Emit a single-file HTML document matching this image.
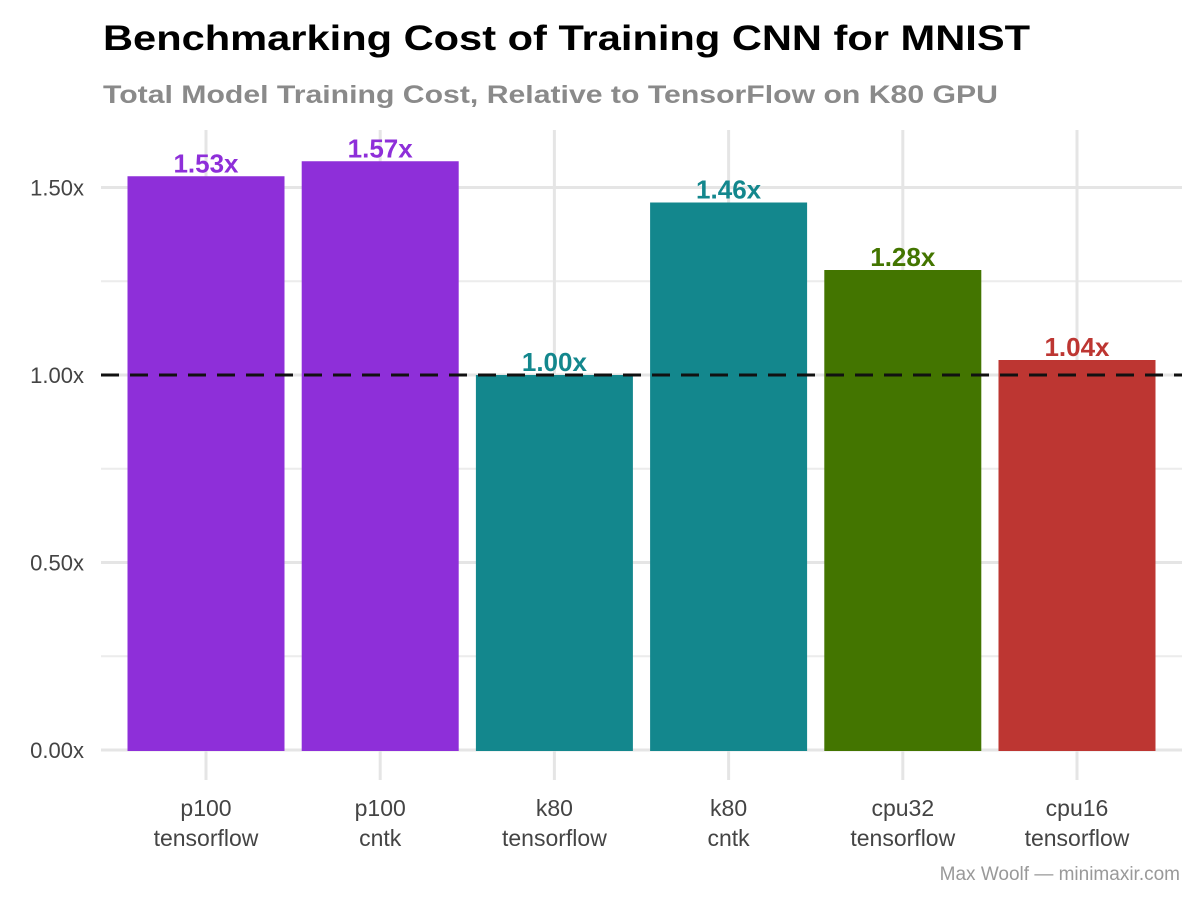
<!DOCTYPE html>
<html><head><meta charset="utf-8"><style>
html,body{margin:0;padding:0;background:#fff;}
svg{display:block;font-family:"Liberation Sans",sans-serif;}
</style></head><body>
<svg id="chart" width="1200" height="900" viewBox="0 0 1200 900">
<text x="103" y="50" font-size="35" font-weight="bold" fill="#000" textLength="927" lengthAdjust="spacingAndGlyphs">Benchmarking Cost of Training CNN for MNIST</text>
<text x="103" y="103" font-size="25" font-weight="bold" fill="#8a8a8a" textLength="895" lengthAdjust="spacingAndGlyphs">Total Model Training Cost, Relative to TensorFlow on K80 GPU</text>
<g id="grid"></g>
<g id="bars"></g>
<g id="labels"></g>
<g id="axes"></g>
<text x="1180" y="880" font-size="19" fill="#999" text-anchor="end">Max Woolf — minimaxir.com</text>
</svg>
<script>
const categories1 = ["p100","p100","k80","k80","cpu32","cpu16"];
const categories2 = ["tensorflow","cntk","tensorflow","cntk","tensorflow","tensorflow"];
const values = [1.53,1.57,1.00,1.46,1.28,1.04];
const valueLabels = ["1.53x","1.57x","1.00x","1.46x","1.28x","1.04x"];
const colors = ["#8E2FD9","#8E2FD9","#13878D","#13878D","#437500","#BD3632"];
const yTicks = [0,0.5,1,1.5];
const yTickLabels = ["0.00x","0.50x","1.00x","1.50x"];
const yMinor = [0.25,0.75,1.25];
const refLine = 1.0;

const NS="http://www.w3.org/2000/svg";
const panelL=101, panelR=1182, panelT=130;
const y = v => 750 - v*375;
const step = 174.2;
const xc = i => 206 + step*i;
const bw = 157;
function mk(tag,attrs,parent){const e=document.createElementNS(NS,tag);for(const k in attrs)e.setAttribute(k,attrs[k]);parent.appendChild(e);return e;}
const grid=document.getElementById('grid'), bars=document.getElementById('bars'), labels=document.getElementById('labels'), axes=document.getElementById('axes');

yMinor.forEach(v=>{const l=mk('line',{x1:panelL,x2:panelR,y1:y(v),y2:y(v),stroke:'#ececec','stroke-width':2},grid);

});
yTicks.forEach((v,i)=>{const l=mk('line',{x1:panelL,x2:panelR,y1:y(v),y2:y(v),stroke:'#e5e5e5','stroke-width':3},grid);


const t=mk('text',{x:84,y:y(v)+8,'font-size':22,fill:'#444','text-anchor':'end'},axes);t.textContent=yTickLabels[i];

});
values.forEach((v,i)=>{
const g=mk('line',{x1:xc(i),x2:xc(i),y1:panelT,y2:780,stroke:'#e5e5e5','stroke-width':3},grid);


const r=mk('rect',{x:xc(i)-bw/2,y:y(v),width:bw,height:y(0)-y(v)+1,fill:colors[i]},bars);


const t=mk('text',{x:xc(i),y:y(v)-4,'font-size':26,'font-weight':'bold',fill:colors[i],'text-anchor':'middle'},labels);t.textContent=valueLabels[i];


const a=mk('text',{x:xc(i),y:816,'font-size':23,fill:'#444','text-anchor':'middle'},axes);a.textContent=categories1[i];


const b=mk('text',{x:xc(i),y:846,'font-size':23,fill:'#444','text-anchor':'middle'},axes);b.textContent=categories2[i];


});
const d=mk('line',{x1:panelL,x2:panelR,y1:y(refLine),y2:y(refLine),stroke:'#111','stroke-width':3,'stroke-dasharray':'18 11'},labels);


</script>
</body></html>
